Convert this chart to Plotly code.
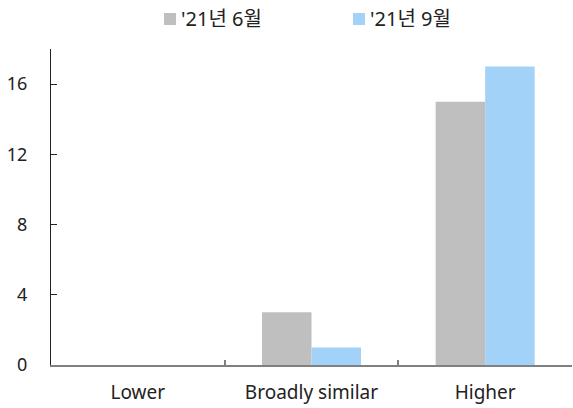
import plotly.graph_objects as go

# Survey response categories and counts per survey round
categories = ["Lower", "Broadly similar", "Higher"]
series_names = ["'21년 6월", "'21년 9월"]
june_values = [0, 3, 15]
sept_values = [0, 1, 17]
series_colors = ["#BFBFBF", "#A3D2F8"]
y_ticks = [0, 4, 8, 12, 16]

FONT = "Noto Sans, Noto Sans CJK KR, sans-serif"

# plot area in pixels (used to place the legend keys above it)
L, R, T, B = 51, 1, 49, 43
W, H = 573, 408
PW, PH = W - L - R, H - T - B


def px_x(x):
    return (x - L) / PW


def px_y(y):
    return (H - B - y) / PH


fig = go.Figure()
for name, values, color in zip(series_names, [june_values, sept_values], series_colors):
    fig.add_trace(go.Bar(x=categories, y=values, name=name, marker_color=color,
                         marker_line_width=0, showlegend=False))

# legend row: colour key square followed by the series name
legend_left = [164, 353]
for name, color, x0 in zip(series_names, series_colors, legend_left):
    fig.add_shape(type="rect", xref="paper", yref="paper",
                  x0=px_x(x0), x1=px_x(x0 + 12), y0=px_y(25), y1=px_y(13),
                  fillcolor=color, line_width=0)
    fig.add_annotation(text=name, xref="paper", yref="paper",
                       x=px_x(x0 + 15), y=px_y(19), xanchor="left", yanchor="middle",
                       showarrow=False, font=dict(size=20, family=FONT, color="#222222"))

fig.update_layout(
    width=W, height=H,
    margin=dict(l=L, r=R, t=T, b=B),
    paper_bgcolor="white", plot_bgcolor="white",
    barmode="group", bargap=0.43, bargroupgap=0,
    font=dict(family=FONT, size=18, color="#222222"),
    showlegend=False,
)
fig.update_yaxes(range=[0, 18], tickvals=y_ticks, showgrid=False, zeroline=False,
                 showline=True, linecolor="#222222", linewidth=1,
                 ticks="inside", ticklen=6, tickcolor="#222222", tickwidth=1,
                 ticklabelstandoff=19)
fig.update_xaxes(showgrid=False, zeroline=False, showline=True,
                 linecolor="#808080", linewidth=2,
                 ticks="inside", tickson="boundaries", ticklen=5,
                 tickcolor="#808080", tickwidth=2, ticklabelstandoff=9,
                 tickfont=dict(size=19))

fig.write_html("out.html")
